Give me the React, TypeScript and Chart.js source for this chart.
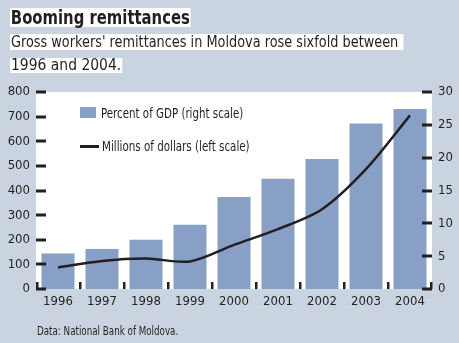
import React, { useEffect, useRef } from "react";
import { Chart, registerables } from "chart.js";

Chart.register(...registerables);

const years = ["1996", "1997", "1998", "1999", "2000", "2001", "2002", "2003", "2004"];
const percentOfGdp = [5.4, 6.1, 7.5, 9.8, 14.0, 16.8, 19.8, 25.2, 27.4];
const millionsOfDollars = [87, 114, 124, 112, 179, 243, 324, 487, 705];
const leftAxisRange = [0, 800, 100];
const rightAxisRange = [0, 30, 5];

const titleText = "Booming remittances";
const subtitleLines = ["Gross workers' remittances in Moldova rose sixfold between ", "1996 and 2004."];
const sourceText = "Data: National Bank of Moldova.";
const legendBar = "Percent of GDP (right scale)";
const legendLine = "Millions of dollars (left scale)";

const FONT = '"DejaVu Sans Condensed", "Liberation Sans Narrow", sans-serif';
const BG = "#cad4e0";
const BAR = "#88a0c6";
const INK = "#231f20";

const frame = {
  id: "frame",
  beforeDatasetsDraw(chart: any) {
    const { ctx, chartArea } = chart;
    ctx.save();
    ctx.fillStyle = "#ffffff";
    ctx.fillRect(chartArea.left, chartArea.top, chartArea.right - chartArea.left, chartArea.bottom - chartArea.top);
    ctx.restore();
  },
  afterDraw(chart: any) {
    const { ctx, chartArea, scales } = chart;
    ctx.save();
    ctx.fillStyle = INK;
    scales.y.ticks.forEach((t: any) => {
      const y = Math.round(scales.y.getPixelForValue(t.value));
      ctx.fillRect(chartArea.left, y - 1.5, 10, 3);
    });
    scales.y1.ticks.forEach((t: any) => {
      const y = Math.round(scales.y1.getPixelForValue(t.value));
      ctx.fillRect(chartArea.right - 10, y - 1.5, 10, 3);
    });
    const n = years.length;
    for (let i = 0; i <= n; i++) {
      let x: number;
      if (i === 0) x = chartArea.left + 1;
      else if (i === n) x = chartArea.right - 1;
      else x = (scales.x.getPixelForValue(i - 1) + scales.x.getPixelForValue(i)) / 2;
      ctx.fillRect(Math.round(x) - 1, chartArea.bottom - 7, 2.5, 7);
    }
    ctx.restore();
  },
};

export default function App() {
  const ref = useRef<HTMLCanvasElement>(null);
  useEffect(() => {
    if (!ref.current) return;
    const chart = new Chart(ref.current, {
      type: "bar",
      data: {
        labels: years,
        datasets: [
          {
            type: "line",
            label: legendLine,
            data: millionsOfDollars,
            yAxisID: "y",
            borderColor: INK,
            borderWidth: 2.5,
            pointRadius: 0,
            tension: 0.3,
            order: 0,
          } as any,
          {
            type: "bar",
            label: legendBar,
            data: percentOfGdp,
            yAxisID: "y1",
            backgroundColor: BAR,
            borderWidth: 0,
            barPercentage: 0.75,
            categoryPercentage: 1,
            order: 1,
          },
        ],
      },
      options: {
        animation: false,
        responsive: false,
        maintainAspectRatio: false,
        layout: { padding: { top: 92, left: 0, right: 0, bottom: 0 } },
        plugins: { legend: { display: false }, tooltip: { enabled: false }, title: { display: false } },
        scales: {
          x: {
            grid: { display: false, drawTicks: false },
            border: { display: false },
            ticks: { color: INK, font: { family: FONT, size: 13 }, padding: 5 },
            afterFit(s: any) { s.height = 54; },
          },
          y: {
            position: "left",
            min: leftAxisRange[0],
            max: leftAxisRange[1],
            grid: { display: false, drawTicks: false },
            border: { display: false },
            ticks: { stepSize: leftAxisRange[2], color: INK, font: { family: FONT, size: 13 }, padding: 6 },
            afterFit(s: any) { s.width = 36; },
          },
          y1: {
            position: "right",
            min: rightAxisRange[0],
            max: rightAxisRange[1],
            grid: { display: false, drawTicks: false },
            border: { display: false },
            ticks: { stepSize: rightAxisRange[2], color: INK, font: { family: FONT, size: 13 }, padding: 6 },
            afterFit(s: any) { s.width = 27; },
          },
        },
      },
      plugins: [frame],
    });
    return () => chart.destroy();
  }, []);

  const whiteSpan: React.CSSProperties = { background: "#fff", display: "inline-block", whiteSpace: "pre" };
  const squeeze = (k: number): React.CSSProperties => ({ transform: `scaleX(${k})`, transformOrigin: "0 0" });

  return (
    <div style={{ position: "absolute", left: 0, top: 0, width: 459, height: 343, background: BG, overflow: "hidden", fontFamily: FONT, color: INK }}>
      <canvas ref={ref} width={459} height={343} style={{ position: "absolute", left: 0, top: 0, width: 459, height: 343 }} />
      <div style={{ position: "absolute", left: 10, top: 8, ...squeeze(0.825) }}>
        <span style={{ ...whiteSpan, fontWeight: "bold", fontSize: 20, height: 19, lineHeight: "19px", padding: "0 1px" }}>{titleText}</span>
      </div>
      <div style={{ position: "absolute", left: 10, top: 32, ...squeeze(0.955) }}>
        <span style={{ ...whiteSpan, fontSize: 15, height: 16, lineHeight: "16px", padding: "0 1px" }}>{subtitleLines[0]}</span>
      </div>
      <div style={{ position: "absolute", left: 10, top: 55, ...squeeze(1.03) }}>
        <span style={{ ...whiteSpan, fontSize: 15, height: 15, lineHeight: "15px", padding: "0 1px" }}>{subtitleLines[1]}</span>
      </div>
      <div style={{ position: "absolute", left: 80, top: 107, width: 16, height: 11, background: BAR }} />
      <div style={{ position: "absolute", left: 101, top: 104, fontSize: 14, lineHeight: "18px", whiteSpace: "nowrap", ...squeeze(0.816) }}>{legendBar}</div>
      <div style={{ position: "absolute", left: 80, top: 144.5, width: 19, height: 3, background: INK }} />
      <div style={{ position: "absolute", left: 102, top: 137, fontSize: 14, lineHeight: "18px", whiteSpace: "nowrap", ...squeeze(0.82) }}>{legendLine}</div>
      <div style={{ position: "absolute", left: 37, top: 324, fontSize: 11.5, lineHeight: "14px", whiteSpace: "nowrap", ...squeeze(0.845) }}>{sourceText}</div>
    </div>
  );
}
